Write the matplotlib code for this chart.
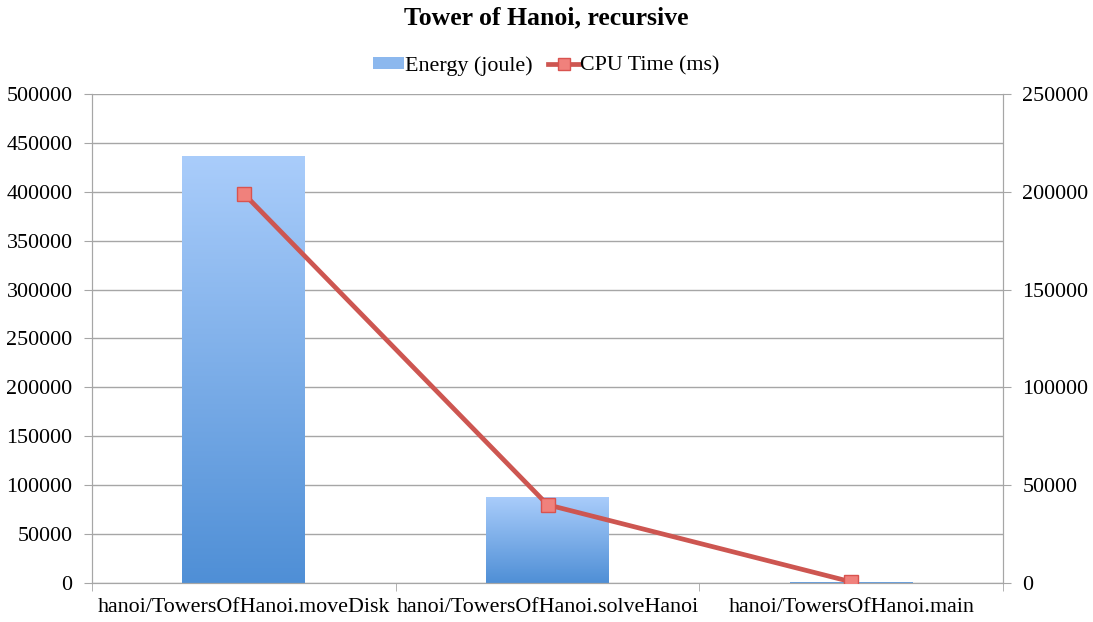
import matplotlib.pyplot as plt
import numpy as np
from matplotlib.patches import Rectangle
from matplotlib.lines import Line2D

plt.rcParams['font.family'] = ['Liberation Serif', 'DejaVu Serif']

FONT_SIZE = 15.8

categories = ["hanoi/TowersOfHanoi.moveDisk", "hanoi/TowersOfHanoi.solveHanoi", "hanoi/TowersOfHanoi.main"]
energy = [437000, 88000, 1500]
cpu_time = [199000, 40000, 600]
left_ticks = [0, 50000, 100000, 150000, 200000, 250000, 300000, 350000, 400000, 450000, 500000]
right_ticks = [0, 50000, 100000, 150000, 200000, 250000]

GRID = "#a6a6a6"
LINE_RED = "#cd5651"

fig = plt.figure(figsize=(10.93, 6.22), dpi=100)
ax = fig.add_axes([0.0842, 0.0627, 0.8335, 0.7862])
x = np.arange(len(categories))

bars = ax.bar(x, energy, width=0.405, color="none", edgecolor="none", zorder=2)
grad = np.linspace(0, 1, 256).reshape(-1, 1)
cmap = plt.matplotlib.colors.LinearSegmentedColormap.from_list("g", ["#4f8fd6", "#aacdfb"])
for b in bars:
    x0, w, h = b.get_x(), b.get_width(), b.get_height()
    im = ax.imshow(grad, cmap=cmap, origin="lower", aspect="auto",
                   extent=(x0, x0 + w, 0, h), zorder=2)
    im.set_clip_path(b)

ax.set_xlim(-0.5, len(categories) - 0.5)
ax.set_ylim(0, 500000)
ax.set_yticks(left_ticks)
ax.set_yticklabels([str(t) for t in left_ticks])
ax.set_xticks(x)
ax.set_xticklabels(categories)
ax.set_xticks(np.arange(len(categories) + 1) - 0.5, minor=True)
ax.tick_params(axis="x", which="major", length=0, pad=11)
ax.tick_params(axis="x", which="minor", length=6, color=GRID)
ax.tick_params(axis="y", length=6, color=GRID, pad=8)
ax.yaxis.grid(True, color=GRID, linewidth=1)
ax.set_axisbelow(True)
for s in ["left", "right", "bottom"]:
    ax.spines[s].set_color(GRID)
ax.spines["top"].set_visible(False)

ax2 = ax.twinx()
ax2.plot(x, cpu_time, color=LINE_RED, linewidth=3.4, marker="s", markersize=10,
         markerfacecolor="#f0817c", markeredgecolor="#d9534f", markeredgewidth=1, zorder=3)
ax2.set_ylim(0, 250000)
ax2.set_yticks(right_ticks)
ax2.set_yticklabels([str(t) for t in right_ticks])
ax2.tick_params(axis="y", length=6, color=GRID, pad=8)
for s in ["left", "right", "bottom"]:
    ax2.spines[s].set_color(GRID)
ax2.spines["top"].set_visible(False)

for a in (ax, ax2):
    for item in a.get_xticklabels() + a.get_yticklabels():
        item.set_fontsize(FONT_SIZE)

fig.suptitle("Tower of Hanoi, recursive", fontsize=18.5, fontweight="bold", y=0.99)
handles = [Rectangle((0, 0), 1, 1, facecolor="#8cb8ee", edgecolor="none"),
           Line2D([], [], color=LINE_RED, linewidth=3.4, marker="s", markersize=9,
                  markerfacecolor="#f0817c", markeredgecolor="#d9534f")]
fig.legend(handles, ["Energy (joule)", "CPU Time (ms)"], loc="upper center",
           bbox_to_anchor=(0.5, 0.942), ncol=2, frameon=False, fontsize=FONT_SIZE,
           handlelength=1.4, handletextpad=0.05, columnspacing=0.7, handleheight=0.45)

fig.savefig("out.png", dpi=100)
